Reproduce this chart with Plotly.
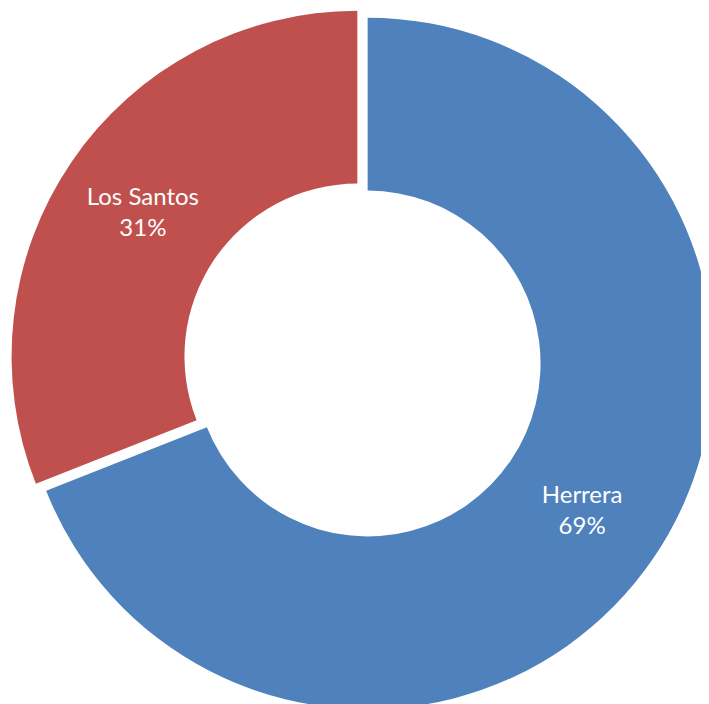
import plotly.graph_objects as go

labels = ["Herrera", "Los Santos"]
values = [69, 31]
colors = ["#4F81BD", "#C0504D"]

fig = go.Figure(
    go.Pie(
        labels=labels,
        values=values,
        hole=0.5,
        sort=False,
        direction="clockwise",
        rotation=0,
        pull=[0.018, 0.018],
        marker=dict(colors=colors, line=dict(width=0)),
        texttemplate="%{label}<br>%{percent:.0%}",
        textposition="inside",
        insidetextorientation="horizontal",
        insidetextfont=dict(family="Lato", size=24, color="white"),
        showlegend=False,
    )
)

fig.update_layout(
    width=709,
    height=704,
    margin=dict(l=0, r=0, t=0, b=0),
    paper_bgcolor="white",
    plot_bgcolor="white",
)

fig.write_html("out.html")
